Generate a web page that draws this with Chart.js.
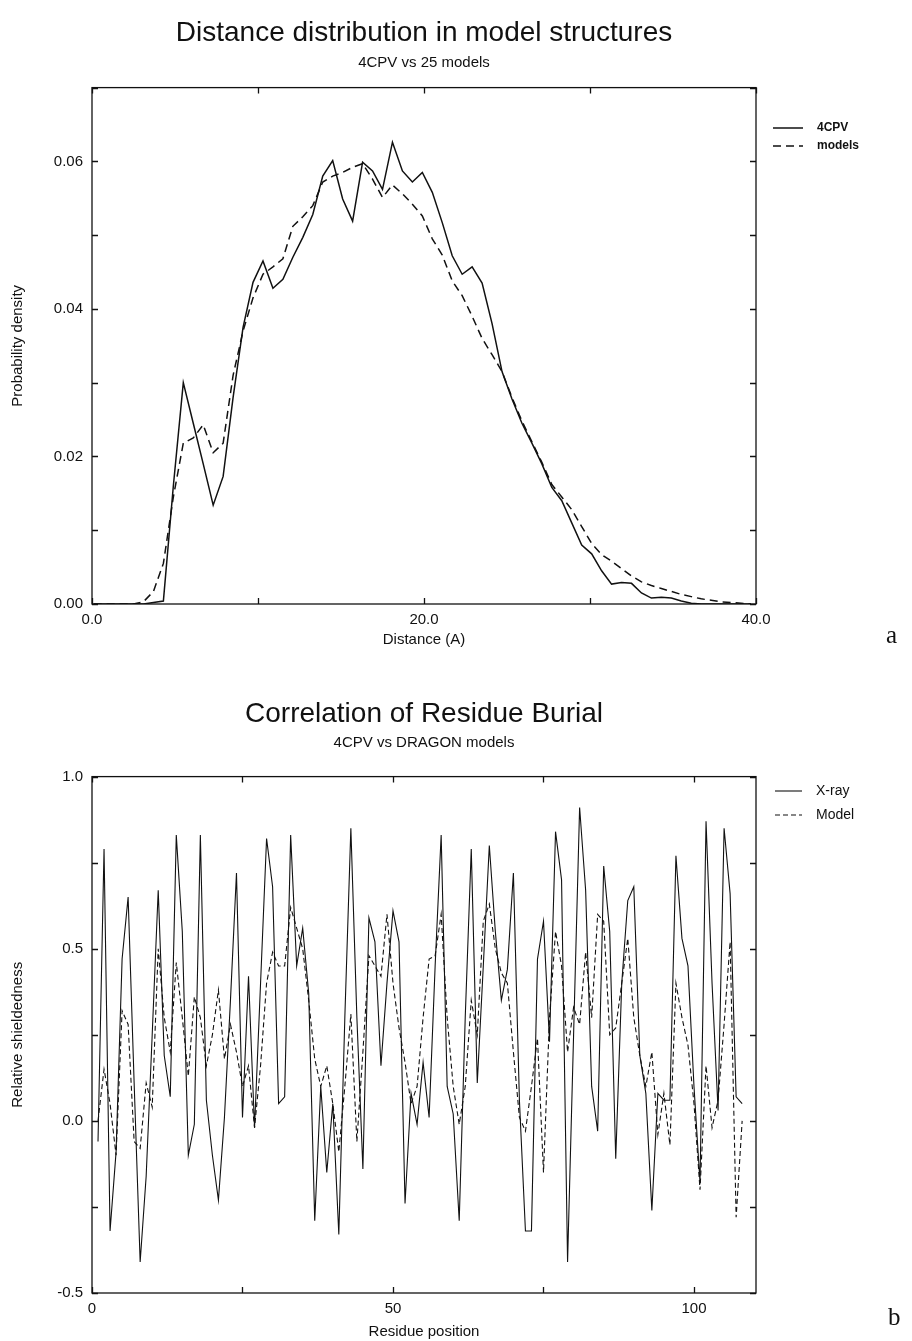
<!DOCTYPE html>
<html>
<head>
<meta charset="utf-8">
<script src="https://cdn.jsdelivr.net/npm/chart.js@4.4.0/dist/chart.umd.min.js"></script>
<style>
  html, body { margin: 0; padding: 0; background: #fff; }
  #wrapA { position: absolute; left: 0; top: 0; width: 912px; height: 660px; }
  #wrapB { position: absolute; left: 0; top: 660px; width: 912px; height: 681px; }
  .tag { position: absolute; font-family: "Liberation Serif", "DejaVu Serif", serif; font-size: 25px; color: #111; }
</style>
</head>
<body>
<div id="wrapA"><canvas id="distChart" width="912" height="660"></canvas></div>
<div id="wrapB"><canvas id="burialChart" width="912" height="681"></canvas></div>
<div class="tag" style="left:886px;top:621px">a</div>
<div class="tag" style="left:888px;top:1303px">b</div>
<script>
// ---- panel a: distance distribution ----
const distances = [0.1, 0.7, 1.3, 1.9, 2.5, 3.1, 3.7, 4.3, 4.9, 5.5, 6.1, 6.7, 7.3, 7.9, 8.5, 9.1, 9.7,
  10.3, 10.9, 11.5, 12.1, 12.7, 13.3, 13.9, 14.5, 15.1, 15.7, 16.3, 16.9, 17.5, 18.1, 18.7, 19.3, 19.9,
  20.5, 21.1, 21.7, 22.3, 22.9, 23.5, 24.1, 24.7, 25.3, 25.9, 26.5, 27.1, 27.7, 28.3, 28.9, 29.5,
  30.1, 30.7, 31.3, 31.9, 32.5, 33.1, 33.7, 34.3, 34.9, 35.5, 36.1, 36.7, 37.3, 37.9, 38.5, 39.1, 39.7];
const density4cpv = [0, 0, 0, 0, 0, 0, 0.0002, 0.0004, 0.0160, 0.0300, 0.0245, 0.0190, 0.0134, 0.0173, 0.0280, 0.0375, 0.0436,
  0.0465, 0.0428, 0.0440, 0.0470, 0.0497, 0.0528, 0.0580, 0.0601, 0.0549, 0.0519, 0.0599, 0.0587, 0.0562, 0.0626, 0.0587, 0.0572, 0.0585,
  0.0558, 0.0517, 0.0472, 0.0447, 0.0457, 0.0435, 0.0380, 0.0315, 0.0278, 0.0245, 0.0218, 0.0190, 0.0158, 0.0140, 0.0110, 0.0080,
  0.0068, 0.0045, 0.0027, 0.0029, 0.0028, 0.0015, 0.0008, 0.0009, 0.0008, 0.0004, 0.0001, 0, 0, 0, 0, 0, 0];
const densityModels = [0, 0, 0, 0, 0, 0.0003, 0.0017, 0.0055, 0.0145, 0.0218, 0.0225, 0.0243, 0.0205, 0.0218, 0.0310, 0.0370, 0.0415,
  0.0447, 0.0457, 0.0468, 0.0512, 0.0525, 0.0540, 0.0572, 0.0580, 0.0585, 0.0592, 0.0597, 0.0576, 0.0551, 0.0568, 0.0556, 0.0542, 0.0526,
  0.0495, 0.0473, 0.0438, 0.0418, 0.0390, 0.0360, 0.0338, 0.0315, 0.0280, 0.0248, 0.0220, 0.0192, 0.0162, 0.0145, 0.0128, 0.0105,
  0.0082, 0.0067, 0.0058, 0.0048, 0.0038, 0.0030, 0.0025, 0.0021, 0.0017, 0.0013, 0.0010, 0.0007, 0.0005, 0.0003, 0.0002, 0.0001, 0];
const distTicks = [0, 10, 20, 30, 40];
const distLabelTicks = [0, 20, 40];
const densTicks = [0, 0.01, 0.02, 0.03, 0.04, 0.05, 0.06, 0.07];
const densLabelTicks = [0, 0.02, 0.04, 0.06];

// ---- panel b: residue burial ----
const residues = [1, 2, 3, 4, 5, 6, 7, 8, 9, 10, 11, 12, 13, 14, 15, 16, 17, 18, 19, 20,
  21, 22, 23, 24, 25, 26, 27, 28, 29, 30, 31, 32, 33, 34, 35, 36, 37, 38, 39, 40,
  41, 42, 43, 44, 45, 46, 47, 48, 49, 50, 51, 52, 53, 54, 55, 56, 57, 58, 59, 60,
  61, 62, 63, 64, 65, 66, 67, 68, 69, 70, 71, 72, 73, 74, 75, 76, 77, 78, 79, 80,
  81, 82, 83, 84, 85, 86, 87, 88, 89, 90, 91, 92, 93, 94, 95, 96, 97, 98, 99, 100,
  101, 102, 103, 104, 105, 106, 107, 108];
const xrayBurial = [-0.06, 0.79, -0.32, -0.09, 0.47, 0.65, 0.11, -0.41, -0.16, 0.25,
  0.67, 0.19, 0.07, 0.83, 0.55, -0.10, -0.01, 0.83, 0.06, -0.10,
  -0.23, 0.01, 0.35, 0.72, 0.01, 0.42, -0.02, 0.40, 0.82, 0.68,
  0.05, 0.07, 0.83, 0.45, 0.56, 0.37, -0.29, 0.10, -0.15, 0.05,
  -0.33, 0.30, 0.85, 0.30, -0.14, 0.59, 0.52, 0.16, 0.40, 0.61,
  0.52, -0.24, 0.08, -0.01, 0.17, 0.01, 0.45, 0.83, 0.10, 0.02,
  -0.29, 0.30, 0.79, 0.11, 0.45, 0.80, 0.55, 0.35, 0.44, 0.72,
  0.06, -0.32, -0.32, 0.47, 0.58, 0.23, 0.84, 0.70, -0.41, 0.25,
  0.91, 0.67, 0.10, -0.03, 0.74, 0.55, -0.11, 0.40, 0.64, 0.68,
  0.19, 0.08, -0.26, 0.08, 0.06, 0.06, 0.77, 0.53, 0.45, 0.10,
  -0.18, 0.87, 0.40, 0.03, 0.85, 0.66, 0.07, 0.05];
const modelBurial = [0.00, 0.15, 0.05, -0.10, 0.32, 0.28, -0.06, -0.08, 0.11, 0.04,
  0.50, 0.30, 0.20, 0.46, 0.30, 0.13, 0.36, 0.30, 0.16, 0.25,
  0.38, 0.18, 0.28, 0.20, 0.10, 0.16, -0.02, 0.16, 0.40, 0.49,
  0.45, 0.45, 0.62, 0.56, 0.50, 0.35, 0.18, 0.10, 0.16, 0.05,
  -0.09, 0.10, 0.31, -0.06, 0.20, 0.48, 0.45, 0.42, 0.60, 0.40,
  0.27, 0.17, 0.05, 0.10, 0.30, 0.47, 0.48, 0.60, 0.30, 0.10,
  -0.01, 0.10, 0.35, 0.25, 0.58, 0.63, 0.50, 0.43, 0.40, 0.20,
  0.01, -0.03, 0.10, 0.24, -0.15, 0.30, 0.55, 0.45, 0.20, 0.33,
  0.28, 0.49, 0.30, 0.60, 0.58, 0.25, 0.27, 0.40, 0.53, 0.30,
  0.19, 0.10, 0.20, -0.04, 0.08, -0.07, 0.40, 0.30, 0.22, 0.05,
  -0.20, 0.16, -0.02, 0.06, 0.28, 0.52, -0.28, 0.00];
const resTicks = [0, 25, 50, 75, 100];
const resLabelTicks = [0, 50, 100];
const burialTicks = [-0.5, -0.25, 0, 0.25, 0.5, 0.75, 1.0];
const burialLabelTicks = [-0.5, 0, 0.5, 1];

Chart.defaults.font.family = '"Liberation Sans", Arial, sans-serif';
Chart.defaults.color = '#111';

function near(list, v) {
  return list.some(t => Math.abs(t - v) < 1e-9);
}

// box round the plot with inward ticks on all four sides
const frameTicks = {
  id: 'frameTicks',
  afterDatasetsDraw(chart) {
    const { ctx, chartArea: a, scales } = chart;
    const len = 6;
    ctx.save();
    ctx.strokeStyle = '#111';
    ctx.lineWidth = 1.3;
    ctx.setLineDash([]);
    ctx.strokeRect(a.left, a.top, a.right - a.left, a.bottom - a.top);
    ctx.beginPath();
    scales.x.ticks.forEach(t => {
      const px = Math.round(scales.x.getPixelForValue(t.value)) + 0.5;
      ctx.moveTo(px, a.bottom); ctx.lineTo(px, a.bottom - len);
      ctx.moveTo(px, a.top); ctx.lineTo(px, a.top + len);
    });
    scales.y.ticks.forEach(t => {
      const py = Math.round(scales.y.getPixelForValue(t.value)) + 0.5;
      ctx.moveTo(a.left, py); ctx.lineTo(a.left + len, py);
      ctx.moveTo(a.right, py); ctx.lineTo(a.right - len, py);
    });
    ctx.stroke();
    ctx.restore();
  }
};

// line-sample legend to the right of the plot
const lineLegend = {
  id: 'lineLegend',
  afterDraw(chart, args, o) {
    const ctx = chart.ctx;
    ctx.save();
    ctx.font = o.font;
    ctx.fillStyle = '#111';
    ctx.textBaseline = 'middle';
    chart.data.datasets.forEach((ds, i) => {
      const y = o.y + i * o.gap;
      ctx.setLineDash(ds.borderDash || []);
      ctx.lineWidth = ds.borderWidth;
      ctx.strokeStyle = ds.borderColor;
      ctx.beginPath();
      ctx.moveTo(o.x, y);
      ctx.lineTo(o.x + o.len, y);
      ctx.stroke();
      ctx.fillText(ds.label, o.x + o.len + o.textGap, y);
    });
    ctx.restore();
  }
};

function pairs(xs, ys) {
  return xs.map((x, i) => ({ x: x, y: ys[i] }));
}

function makeChart(canvasId, cfg) {
  const ctx = document.getElementById(canvasId).getContext('2d');
  return new Chart(ctx, {
    type: 'line',
    data: {
      datasets: [{
        label: cfg.names[0],
        data: pairs(cfg.xs, cfg.ys1),
        borderColor: '#111',
        borderWidth: cfg.lw,
        pointRadius: 0,
        tension: 0,
        fill: false
      }, {
        label: cfg.names[1],
        data: pairs(cfg.xs, cfg.ys2),
        borderColor: '#111',
        borderWidth: cfg.lw,
        borderDash: cfg.dash,
        pointRadius: 0,
        tension: 0,
        fill: false
      }]
    },
    options: {
      responsive: false,
      animation: false,
      layout: { padding: cfg.padding },
      plugins: {
        legend: { display: false },
        tooltip: { enabled: false },
        title: {
          display: true, text: cfg.title, fullSize: false,
          font: { size: 28, weight: 'normal' }, color: '#111',
          padding: cfg.titlePad
        },
        subtitle: {
          display: true, text: cfg.subtitle, fullSize: false,
          font: { size: 15 }, color: '#111',
          padding: cfg.subPad
        },
        lineLegend: cfg.legend
      },
      scales: {
        x: {
          type: 'linear', min: cfg.xMin, max: cfg.xMax,
          grid: { display: false, drawTicks: false },
          border: { display: false },
          afterBuildTicks: s => { s.ticks = cfg.xTicks.map(v => ({ value: v })); },
          ticks: {
            autoSkip: false, maxRotation: 0, padding: 7,
            font: { size: 15 }, color: '#111',
            callback: v => near(cfg.xLabels, v) ? cfg.xFmt(v) : ''
          },
          title: { display: true, text: cfg.xTitle, font: { size: 15 }, color: '#111', padding: { top: 0, bottom: cfg.xTitleGap } },
          afterFit: s => { s.height = cfg.xHeight; }
        },
        y: {
          type: 'linear', min: cfg.yMin, max: cfg.yMax,
          grid: { display: false, drawTicks: false },
          border: { display: false },
          afterBuildTicks: s => { s.ticks = cfg.yTicks.map(v => ({ value: v })); },
          ticks: {
            autoSkip: false, padding: 9,
            font: { size: 15 }, color: '#111',
            callback: v => near(cfg.yLabels, v) ? cfg.yFmt(v) : ''
          },
          title: { display: true, text: cfg.yTitle, font: { size: 15 }, color: '#111', padding: { top: 1, bottom: 0 } },
          afterFit: s => { s.width = 84; }
        }
      }
    },
    plugins: [frameTicks, lineLegend]
  });
}

makeChart('distChart', {
  names: ['4CPV', 'models'],
  xs: distances, ys1: density4cpv, ys2: densityModels,
  lw: 1.5, dash: [8, 5],
  padding: { top: 16, left: 8, right: 156, bottom: 0 },
  title: 'Distance distribution in model structures',
  subtitle: '4CPV vs 25 models',
  titlePad: { top: 0, bottom: 2 },
  subPad: { top: 2, bottom: 16 },
  legend: { x: 773, y: 128, gap: 18, len: 30, textGap: 14, font: 'bold 12px "Liberation Sans", Arial, sans-serif' },
  xMin: 0, xMax: 40, xTicks: distTicks, xLabels: distLabelTicks, xFmt: v => v.toFixed(1),
  xTitle: 'Distance (A)', xHeight: 56, xTitleGap: 11,
  yMin: 0, yMax: 0.07, yTicks: densTicks, yLabels: densLabelTicks, yFmt: v => v.toFixed(2),
  yTitle: 'Probability density'
});

makeChart('burialChart', {
  names: ['X-ray', 'Model'],
  xs: residues, ys1: xrayBurial, ys2: modelBurial,
  lw: 1.1, dash: [5, 3],
  padding: { top: 37, left: 8, right: 156, bottom: 0 },
  title: 'Correlation of Residue Burial',
  subtitle: '4CPV vs DRAGON models',
  titlePad: { top: 0, bottom: 1 },
  subPad: { top: 2, bottom: 25 },
  legend: { x: 775, y: 131, gap: 24, len: 27, textGap: 14, font: '14px "Liberation Sans", Arial, sans-serif' },
  xMin: 0, xMax: 110.3, xTicks: resTicks, xLabels: resLabelTicks, xFmt: v => String(v),
  xTitle: 'Residue position', xHeight: 48, xTitleGap: 0,
  yMin: -0.5, yMax: 1.0, yTicks: burialTicks, yLabels: burialLabelTicks, yFmt: v => v.toFixed(1),
  yTitle: 'Relative shieldedness'
});
</script>
</body>
</html>
